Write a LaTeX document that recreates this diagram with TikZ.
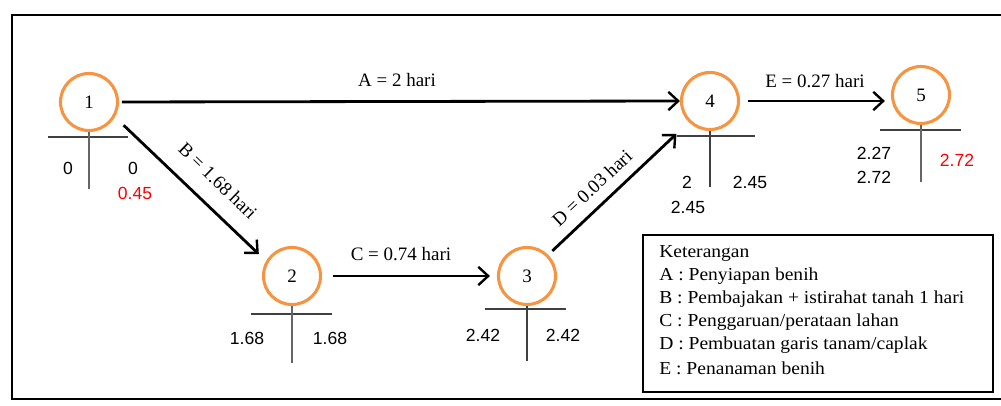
\documentclass[tikz,border=0pt]{standalone}
\usepackage{fontspec}
\setmainfont{Liberation Serif}
\newfontfamily\arialf{Liberation Sans}
\usetikzlibrary{arrows.meta,calc}
\definecolor{circOrange}{RGB}{246,148,66}
\definecolor{numRed}{RGB}{255,0,0}
\tikzset{
  evnode/.style={circle,draw=circOrange,line width=2.2pt,minimum size=1.425cm,inner sep=0pt,
    font=\fontsize{13.5}{15}\selectfont},
  actarrow/.style={line width=2pt,-{Straight Barb[length=7pt,width=13pt,line width=1.7pt]}},
  tline/.style={line width=1.1pt,draw=black!75},
  vline/.style={line width=1.3pt,draw=black!60},
  numlab/.style={font=\arialf\fontsize{12.5}{14}\selectfont,inner sep=0pt},
  redlab/.style={numlab,text=numRed},
  edgelab/.style={font=\fontsize{13.5}{15}\selectfont,inner sep=0pt},
  legline/.style={font=\fontsize{13}{15}\selectfont,anchor=west,inner sep=0pt,xscale=1.07},
}
\begin{document}
\begin{tikzpicture}[x=0.025cm,y=-0.025cm]
\useasboundingbox (0,0) rectangle (1001,406);
% outer frame (open to the right)
\draw[line width=1.4pt] (1010,15) -- (12,15) -- (12,399) -- (1010,399);

% event nodes
\node[evnode] (n1) at (89,102) {1};
\node[evnode] (n2) at (292,276) {2};
\node[evnode] (n3) at (527,276) {3};
\node[evnode] (n4) at (710,101) {4};
\node[evnode] (n5) at (921,95) {5};

% T lines under nodes
\draw[tline] (48,137) -- (128,137);
\draw[vline] (n1.south) -- (89,189);
\draw[tline] (251,314) -- (332,314);
\draw[vline] (n2.south) -- (292,363);
\draw[tline] (485,309) -- (566,309);
\draw[tline,line width=1.3pt] (n3.south) -- (527,361);
\draw[tline] (677,136) -- (755,136);
\draw[tline,line width=1.3pt] (n4.south) -- (710,187);
\draw[tline] (880,130) -- (961,130);
\draw[vline] (n5.south) -- (921,182);

% times
\node[numlab] (t1a) at (68,168) {0};
\node[numlab] (t1b) at (133,168) {0};
\node[redlab] (t1c) at (135,193) {0.45};
\node[numlab] (t2a) at (247,338) {1.68};
\node[numlab] (t2b) at (330,338) {1.68};
\node[numlab] (t3a) at (483,335) {2.42};
\node[numlab] (t3b) at (563,335) {2.42};
\node[numlab] (t4a) at (687,182) {2};
\node[numlab] (t4b) at (750,182) {2.45};
\node[numlab] (t4c) at (688,207) {2.45};
\node[numlab] (t5a) at (874,153) {2.27};
\node[numlab] (t5b) at (874,177) {2.72};
\node[redlab] (t5c) at (957,160) {2.72};

% activities
\draw[actarrow,shorten <=2pt] (n1.east) -- (n4.west);
\node[edgelab] (la) at (397,80) {A = 2 hari};
\draw[actarrow,shorten <=8.5pt,shorten >=7pt] (n1.-30) -- (n2.150);
\node[edgelab,rotate=-44] (lb) at (218,181) {B = 1.68 hari};
\draw[actarrow,shorten <=7.5pt,shorten >=5pt] (n2.east) -- (n3.west);
\node[edgelab] (lc) at (401,254) {C = 0.74 hari};
\draw[actarrow,shorten <=4pt,shorten >=12pt] (n3.45) -- (n4.-135);
\node[edgelab,rotate=43] (ld) at (592,188) {D = 0.03 hari};
\draw[actarrow,shorten <=5.5pt,shorten >=4.3pt] (n4.east) -- (n4.east -| n5.west);
\node[edgelab] (le) at (815,81) {E = 0.27 hari};

% legend
\draw[line width=1.1pt] (643,235) rectangle (993,392);
\node[legline] (k0) at (659,253) {Keterangan};
\node[legline] (k1) at (659,276) {A : Penyiapan benih};
\node[legline] (k2) at (659,299) {B : Pembajakan + istirahat tanah 1 hari};
\node[legline] (k3) at (659,322) {C : Penggaruan/perataan lahan};
\node[legline] (k4) at (659,345) {D : Pembuatan garis tanam/caplak};
\node[legline] (k5) at (659,368) {E : Penanaman benih};
\end{tikzpicture}
\end{document}
